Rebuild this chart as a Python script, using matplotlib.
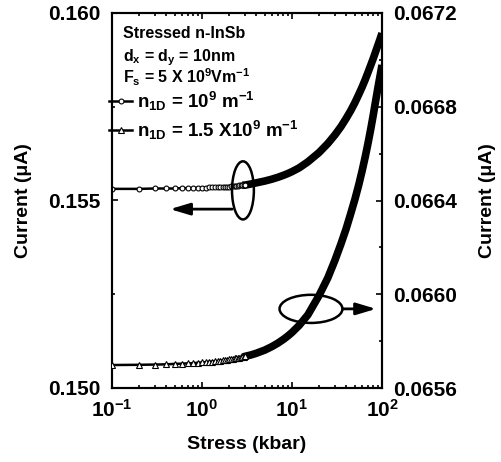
import matplotlib
matplotlib.use("Agg")
import matplotlib.pyplot as plt
from matplotlib.patches import Ellipse
from matplotlib.ticker import FixedLocator, FixedFormatter, MultipleLocator, LogLocator, NullFormatter
import numpy as np

# Stress values (kbar)
stress = [0.1, 0.2, 0.3, 0.4, 0.5, 0.6, 0.7, 0.8, 0.9, 1.0,
          1.1, 1.2, 1.3, 1.4, 1.5, 1.6, 1.7, 1.8, 1.9, 2.0,
          2.1, 2.2, 2.3, 2.4, 2.5, 2.6, 2.7, 2.8, 2.9, 3.0,
          3.5, 4, 5, 6, 7, 8, 9, 10, 12, 15, 20, 25, 30, 35, 40, 45,
          50, 55, 60, 65, 70, 75, 80, 85, 90, 95, 100]

# Current (uA) for n1D = 1e9 m^-1, left axis
current_n1 = [0.15531, 0.15531, 0.15532, 0.15532, 0.15532, 0.15533, 0.15533, 0.15533, 0.15534, 0.15534,
              0.15534, 0.15535, 0.15535, 0.15535, 0.15536, 0.15536, 0.15536, 0.15537, 0.15537, 0.15537,
              0.15538, 0.15538, 0.15539, 0.15539, 0.15539, 0.15540, 0.15540, 0.15541, 0.15541, 0.15541,
              0.15544, 0.15547, 0.15552, 0.15557, 0.15562, 0.15567, 0.15572, 0.15577, 0.15587, 0.15603,
              0.15628, 0.15652, 0.15675, 0.15697, 0.15719, 0.15740, 0.15761, 0.15782, 0.15802, 0.15822,
              0.15842, 0.15861, 0.15879, 0.15897, 0.15914, 0.15930, 0.15946]

# Current (uA) for n1D = 1.5e9 m^-1, right axis
current_n15 = [0.065698, 0.065699, 0.065700, 0.065701, 0.065703, 0.065704, 0.065705, 0.065706, 0.065708, 0.065709,
               0.065710, 0.065712, 0.065713, 0.065714, 0.065715, 0.065717, 0.065718, 0.065719, 0.065721, 0.065722,
               0.065723, 0.065724, 0.065726, 0.065727, 0.065728, 0.065730, 0.065731, 0.065732, 0.065733, 0.065735,
               0.065741, 0.065748, 0.065762, 0.065777, 0.065792, 0.065807, 0.065822, 0.065837, 0.065867, 0.065912,
               0.065995, 0.066070, 0.066145, 0.066215, 0.066280, 0.066345, 0.066405, 0.066465, 0.066525, 0.066585,
               0.066645, 0.066705, 0.066765, 0.066825, 0.066880, 0.066930, 0.066978]

xtick_vals = [0.1, 1, 10, 100]
xtick_labels = ["$10^{-1}$", "$10^{0}$", "$10^{1}$", "$10^{2}$"]
left_ticks = [0.150, 0.155, 0.160]
right_ticks = [0.0656, 0.0660, 0.0664, 0.0668, 0.0672]

plt.rcParams["font.family"] = ["Liberation Sans", "DejaVu Sans"]
plt.rcParams["font.weight"] = "bold"
plt.rcParams["axes.labelweight"] = "bold"
plt.rcParams["mathtext.fontset"] = "custom"
plt.rcParams["mathtext.rm"] = "Liberation Sans:bold"
plt.rcParams["mathtext.it"] = "Liberation Sans:bold"
plt.rcParams["mathtext.bf"] = "Liberation Sans:bold"
plt.rcParams["mathtext.default"] = "rm"

fig = plt.figure(figsize=(5.02, 4.62), dpi=100)
ax = fig.add_axes([112 / 502, 74 / 462, 270 / 502, 375 / 462])
ax2 = ax.twinx()

x = np.array(stress)
y1 = np.array(current_n1)
y2 = np.array(current_n15)
sparse = x <= 3.0
dense = x >= 2.8

# n1D = 1e9 : thin line with open circles, then a heavy band
ax.plot(x[dense], y1[dense], color="black", lw=5.5, solid_capstyle="butt", zorder=3)
h1, = ax.plot(x, y1, color="black", lw=1.8, marker="o", ms=3.5, mfc="white",
              mec="black", mew=0.8, markevery=list(np.where(sparse)[0]), zorder=4)

# n1D = 1.5e9 : thin line with open triangles, then a heavy band
ax2.plot(x[dense], y2[dense], color="black", lw=5.5, solid_capstyle="butt", zorder=3)
h2, = ax2.plot(x, y2, color="black", lw=1.8, marker="^", ms=4.0, mfc="white",
               mec="black", mew=0.8, markevery=list(np.where(sparse)[0]), zorder=4)

ax.set_xscale("log")
ax.set_xlim(0.1, 100)
ax.set_ylim(0.150, 0.160)
ax2.set_ylim(0.0656, 0.0672)

ax.xaxis.set_major_locator(FixedLocator(xtick_vals))
ax.xaxis.set_major_formatter(FixedFormatter(xtick_labels))
ax.xaxis.set_minor_locator(LogLocator(base=10, subs=np.arange(2, 10)))
ax.xaxis.set_minor_formatter(NullFormatter())

ax.yaxis.set_major_locator(FixedLocator(left_ticks))
ax.yaxis.set_major_formatter(FixedFormatter(["%.3f" % v for v in left_ticks]))
ax.yaxis.set_minor_locator(MultipleLocator(0.0025))
ax2.yaxis.set_major_locator(FixedLocator(right_ticks))
ax2.yaxis.set_major_formatter(FixedFormatter(["%.4f" % v for v in right_ticks]))
ax2.yaxis.set_minor_locator(MultipleLocator(0.0002))

for a in (ax, ax2):
    for s in a.spines.values():
        s.set_linewidth(1.5)
ax.tick_params(axis="x", which="both", direction="in", top=True, width=1.2, labelsize=15, pad=8)
ax.tick_params(axis="x", which="major", length=4)
ax.tick_params(axis="x", which="minor", length=2.5)
ax.tick_params(axis="y", which="both", direction="in", width=1.2, labelsize=15, pad=8)
ax.tick_params(axis="y", which="major", length=4)
ax.tick_params(axis="y", which="minor", length=2.5)
ax2.tick_params(axis="y", which="both", direction="in", width=1.2, labelsize=15, pad=8)
ax2.tick_params(axis="y", which="major", length=4)
ax2.tick_params(axis="y", which="minor", length=2.5)

ax.set_xlabel("Stress (kbar)", fontsize=14, labelpad=11)
ax.set_ylabel("Current (μA)", fontsize=14, labelpad=12)
ax2.set_ylabel("Current (μA)", fontsize=14, rotation=90, labelpad=16)

# Parameter block
ax.text(0.041, 0.932, "Stressed n-InSb", transform=ax.transAxes, fontsize=11.5, va="baseline")
ax.text(0.041, 0.872, r"$d_x$ = $d_y$ = 10nm", transform=ax.transAxes, fontsize=11.5, va="baseline")
ax.text(0.041, 0.812, r"$F_s$ = 5 X 10$^9$Vm$^{-1}$", transform=ax.transAxes, fontsize=11.5, va="baseline")

ax.legend([h1, h2], [r"$n_{1D}$ = 10$^9$ m$^{-1}$", r"$n_{1D}$ = 1.5 X10$^9$ m$^{-1}$"],
          loc="upper left", bbox_to_anchor=(-0.01, 0.795), frameon=False, fontsize=13.5,
          handlelength=1.2, handletextpad=0.3, borderpad=0, borderaxespad=0,
          labelspacing=0.3, markerscale=1.0)

# Ellipses and arrows pointing each curve to its axis
ax.add_patch(Ellipse((0.485, 0.527), 0.081, 0.155, transform=ax.transAxes,
                     fill=False, lw=1.8, color="black", zorder=5))
ax.annotate("", xy=(0.215, 0.477), xytext=(0.445, 0.477), xycoords="axes fraction",
            arrowprops=dict(arrowstyle="-|>,head_length=1.0,head_width=0.3", lw=2,
                            color="black", mutation_scale=12, shrinkA=0, shrinkB=0))
ax.add_patch(Ellipse((0.737, 0.211), 0.233, 0.075, transform=ax.transAxes,
                     fill=False, lw=1.8, color="black", zorder=5))
ax.annotate("", xy=(0.978, 0.211), xytext=(0.854, 0.211), xycoords="axes fraction",
            arrowprops=dict(arrowstyle="-|>,head_length=1.0,head_width=0.3", lw=2,
                            color="black", mutation_scale=12, shrinkA=0, shrinkB=0))

fig.savefig("out.png", dpi=100)
